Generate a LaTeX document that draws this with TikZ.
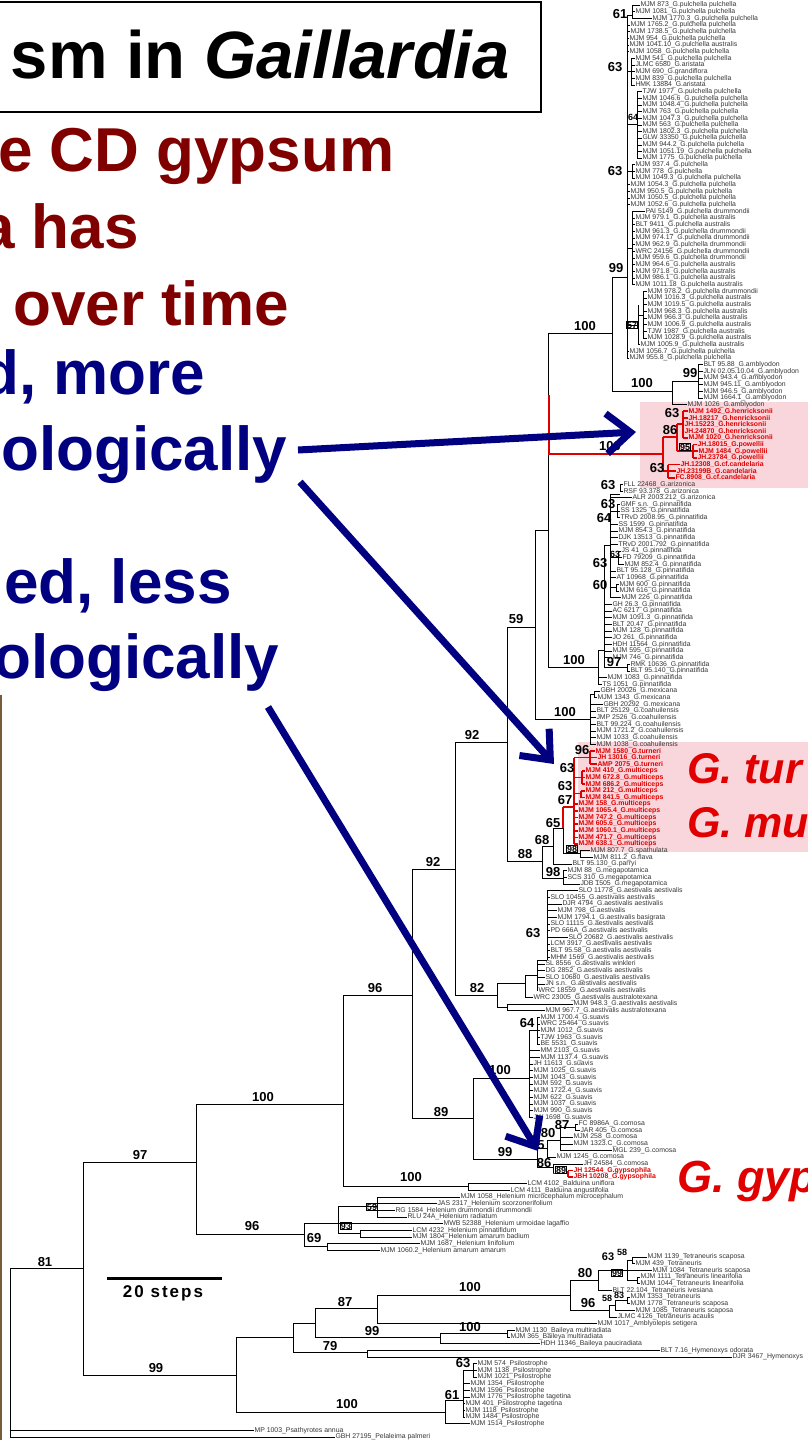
\documentclass[tikz,border=0pt]{standalone}
\usepackage{fontspec}
\setmainfont{Liberation Sans}
\usetikzlibrary{arrows.meta}
\definecolor{maroonT}{RGB}{128,0,0}
\definecolor{navyT}{RGB}{0,0,128}
\definecolor{redT}{RGB}{225,0,0}
\definecolor{pinkT}{RGB}{249,214,220}
\definecolor{leafC}{RGB}{55,55,55}
\definecolor{edgeC}{RGB}{120,90,60}
\newcommand\LY[1]{(5+(#1-1)*6.66)}
\newcommand\VL[4][br]{\draw[#1] (#2,{#3}) -- (#2,{#4});}
\newcommand\HL[4][br]{\draw[#1] (#2,{#4}) -- (#3,{#4});}
\newcommand\LF[5]{\draw[lbr] (#2,{\LY{#1}}) -- (#3,{\LY{#1}});\node[#4] (l#1) at (#3,{\LY{#1}}) {#5};}
\newcommand\RLF[4]{\draw[rbr] (#2,{\LY{#1}}) -- (#3,{\LY{#1}});\node[rlt] (l#1) at (#3,{\LY{#1}}) {#4};}
\newcounter{bsn}
\newcommand\BS[4][bs]{\stepcounter{bsn}\node[#1] (bs\arabic{bsn}) at (#2,#3) {#4};}
\tikzset{
  br/.style={line width=1pt,black},
  lbr/.style={line width=0.7pt,black},
  rbr/.style={line width=1.8pt,redT},
  lt/.style={font=\fontsize{6.9}{7}\selectfont,text=leafC,inner sep=0.3pt,anchor=west},
  rlt/.style={lt,text=redT,font=\fontsize{6.9}{7}\selectfont\bfseries},
  bs/.style={font=\fontsize{13}{13}\selectfont\bfseries,inner sep=0pt},
  bss/.style={font=\fontsize{9}{9}\selectfont\bfseries,inner sep=0.6pt},
  bbox/.style={bss,draw,line width=0.7pt},
  bigt/.style={font=\fontsize{62}{62}\selectfont\bfseries,inner sep=0pt,anchor=base west},
  glab/.style={font=\fontsize{43}{43}\selectfont\bfseries\itshape,text=redT,inner sep=0pt,anchor=base west},
  arr/.style={draw=navyT,line width=7pt,-{Straight Barb[length=24pt,width=40pt]}},
}
\begin{document}
\begin{tikzpicture}[x=1pt,y=-1pt]
\useasboundingbox (0,0) rectangle (808,1440);
\fill[white] (0,0) rectangle (808,1440);
\clip (0,0) rectangle (808,1440);
% pink highlights
\fill[pinkT] (640,402) rectangle (808,488);
\fill[pinkT] (578,742) rectangle (808,852);
% left edge
\draw[edgeC,line width=2pt] (1,695) -- (1,1440);
% title
\draw[line width=2.5pt] (-5,2) rectangle (541,112);
\node[font=\fontsize{67}{67}\selectfont\bfseries,inner sep=0pt,anchor=base east] (title) at (510,78) {sm in \textit{Gaillardia}};
% left text
\node[bigt,text=maroonT] (t1) at (-2,171) {e CD gypsum};
\node[bigt,text=maroonT] (t2) at (-20,248) {a has};
\node[bigt,text=maroonT] (t3) at (13,325) {over time};
\node[bigt,text=navyT] (t4) at (-19,394) {d, more};
\node[bigt,text=navyT] (t5) at (1,470) {ologically};
\node[bigt,text=navyT] (t6) at (4,603) {ed, less};
\node[bigt,text=navyT] (t7) at (-7,678) {ologically};
% big species labels
\node[glab] (gtur) at (687,783) {G. tur};
\node[glab] (gmu) at (687,837) {G. mu};
\node[glab,font=\fontsize{45}{45}\selectfont\bfseries\itshape] (ggyp) at (677,1192) {G. gyp};

% ================= TREE =================
% pulchella
\VL{627}{15}{\LY{54}}
\VL{632}{\LY{1}}{\LY{3}} \HL{627}{632}{15}
\VL{631}{\LY{9}}{\LY{13}} \HL{627}{631}{\LY{11}}
\VL{637}{\LY{14}}{\LY{24}} \HL{627}{637}{\LY{19}}
\VL{632}{\LY{25}}{\LY{27}} \HL{627}{632}{\LY{26}}
\VL{632}{\LY{32}}{\LY{43}} \HL{627}{632}{248}
\VL{638}{305}{\LY{52}} \HL{627}{638}{325}
\VL{643}{\LY{44}}{\LY{51}} \HL{638}{643}{315}
\HL{612}{627}{277}
% amblyodon
\VL{698}{\LY{55}}{\LY{60}} \HL{672}{698}{381}
\VL{672}{381}{\LY{61}} \HL{612}{672}{391}
\VL{612}{277}{391} \HL{548}{612}{333}
\VL{548}{333}{667}
% red henricksonii clade
\VL[rbr]{683}{\LY{62}}{\LY{66}} \HL[rbr]{677}{683}{424}
\VL[rbr]{693}{\LY{67}}{\LY{69}} \HL[rbr]{677}{693}{451}
\VL[rbr]{677}{424}{451} \HL[rbr]{663}{677}{437}
\VL[rbr]{668}{\LY{70}}{\LY{72}} \HL[rbr]{663}{668}{471}
\VL[rbr]{663}{437}{471} \HL[rbr]{548}{663}{454}
\VL[rbr]{549}{395}{454}
% pinnatifida
\VL{620}{\LY{73}}{\LY{74}} \HL{610}{620}{494}
\VL{617}{\LY{76}}{\LY{78}} \HL{610}{617}{\LY{77}}
\VL{618}{\LY{83}}{\LY{85}} \HL{610}{618}{\LY{84}}
\VL{616}{\LY{88}}{\LY{89}} \HL{610}{616}{587}
\VL{610}{494}{\LY{90}} \HL{604}{610}{545}
\VL{627}{\LY{100}}{\LY{101}} \HL{604}{627}{667}
\VL{604}{545}{667} \HL{598}{604}{650}
\VL{598}{650}{\LY{103}} \HL{548}{598}{667}
% mexicana / coahuilensis
\VL{594}{\LY{104}}{\LY{105}} \HL{590}{594}{694}
\VL{590}{694}{\LY{112}} \HL{535}{590}{719}
\VL{535}{530}{719} \HL{535}{548}{530}
\HL{507}{535}{627}
\VL{507}{627}{861}
% turneri / multiceps
\VL[rbr]{590}{\LY{113}}{\LY{115}} \HL[rbr]{574}{590}{\LY{114}}
\VL[rbr]{582}{\LY{116}}{\LY{118}} \HL[rbr]{574}{582}{\LY{117}}
\VL[rbr]{581}{\LY{119}}{\LY{120}} \HL[rbr]{574}{581}{793.5}
\VL[rbr]{574}{\LY{114}}{\LY{127}}
\HL[rbr]{563}{574}{807} \VL[rbr]{563}{807}{828}
\VL{563}{828}{854} \VL{580}{\LY{128}}{\LY{129}} \HL{563}{580}{853.5}
\HL{553}{563}{828} \VL{553}{828}{\LY{130}}
\HL{542}{553}{846} \VL{542}{846}{878} \HL{542}{563}{878}
\VL{563}{\LY{131}}{\LY{133}}
\HL{507}{542}{861}
\HL{455}{507}{742} \VL{455}{742}{995}
\HL{455}{497}{995}
% aestivalis
\VL{547}{\LY{134}}{960} \HL{537}{547}{960}
\VL{537}{960}{\LY{149}} \HL{525}{537}{975}
\VL{525}{975}{\LY{150}} \HL{497}{525}{983}
\VL{507}{\LY{151}}{\LY{152}} \HL{497}{507}{1007}
\VL{497}{983}{1007}
\HL{412}{455}{869} \VL{412}{869}{1118}
\HL{343}{412}{995}
% suavis
\VL{537}{\LY{153}}{\LY{157}} \HL{529}{537}{1030}
\VL{529}{1030}{\LY{168}} \HL{473}{529}{1078}
\VL{473}{1078}{1159} \HL{412}{473}{1118}
% comosa / gypsophila
\VL{575}{\LY{169}}{\LY{170}} \HL{560}{575}{1127}
\VL{560}{1127}{\LY{173}} \HL{547}{560}{1140}
\VL{547}{1140}{\LY{174}} \HL{537}{547}{1148}
\VL{537}{1148}{1167} \HL{537}{553}{1167}
\VL{553}{\LY{175}}{1173.5}
\HL[rbr]{553}{568}{1173.5} \VL[rbr]{568}{\LY{176}}{\LY{177}}
\HL{473}{537}{1159}
% Balduina
\VL{468}{\LY{178}}{\LY{179}} \HL{343}{468}{1186}
\VL{343}{995}{1186}
\HL{196}{343}{1104}
\VL{196}{1104}{1234}
% Helenium
\VL{377}{\LY{180}}{\LY{183}} \HL{338}{377}{1206}
\VL{338}{1206}{1233} \HL{338}{360}{1233} \VL{360}{\LY{185}}{\LY{186}}
\HL{304}{338}{1223} \VL{304}{1223}{1246.7} \HL{304}{327}{1246.7} \VL{327}{\LY{187}}{\LY{188}}
\HL{196}{304}{1234}
\HL{83}{196}{1162}
\VL{83}{1162}{1375}
\HL{10}{83}{1268}
\VL{10}{1268}{\LY{216}}
% lower clades
\HL{83}{236}{1375} \VL{236}{1337}{1412}
\HL{236}{293}{1337} \VL{293}{1323}{1352}
\HL{293}{315}{1323} \VL{315}{1308}{1337}
\HL{315}{377}{1308} \VL{377}{1295}{\LY{199}}
\HL{377}{570}{1295} \VL{570}{1280}{1310}
\HL{570}{598}{1280} \VL{598}{1270}{\LY{194}}
\HL{598}{627}{1270} \VL{627}{1260}{1280}
\HL{627}{632}{1260} \VL{632}{\LY{189}}{\LY{190}}
\HL{627}{637}{1280} \VL{637}{\LY{192}}{\LY{193}}
\HL{570}{609}{1310} \VL{609}{1305}{\LY{198}}
\HL{609}{615}{1305} \VL{615}{1300}{\LY{197}}
\HL{615}{627}{1300} \VL{627}{\LY{195}}{\LY{196}}
\HL{315}{440}{1337} \VL{440}{1333}{\LY{202}}
\HL{440}{507}{1333} \VL{507}{\LY{200}}{\LY{201}}
\HL{293}{367}{1352} \VL{367}{\LY{203}}{\LY{204}}
\HL{236}{445}{1412} \VL{445}{1400}{\LY{214}}
\HL{445}{463}{1400} \VL{463}{1370}{\LY{213}}
\HL{463}{473}{1370} \VL{473}{\LY{205}}{\LY{207}}

% ================= LEAVES =================
\LF{1}{632}{640}{lt}{MJM 873\_G.pulchella pulchella}
\LF{2}{632}{635}{lt}{MJM 1081\_G.pulchella pulchella}
\LF{3}{632}{652}{lt}{MJM 1770.3\_G.pulchella pulchella}
\LF{4}{627}{630}{lt}{MJM 1765.2\_G.pulchella pulchella}
\LF{5}{627}{630}{lt}{MJM 1738.5\_G.pulchella pulchella}
\LF{6}{627}{629}{lt}{MJM 954\_G.pulchella pulchella}
\LF{7}{627}{629}{lt}{MJM 1041.10\_G.pulchella australis}
\LF{8}{627}{629}{lt}{MJM 1058\_G.pulchella pulchella}
\LF{9}{631}{635}{lt}{MJM 541\_G.pulchella pulchella}
\LF{10}{631}{635}{lt}{JLMC 6580\_G.aristata}
\LF{11}{631}{635}{lt}{MJM 690\_G.grandiflora}
\LF{12}{631}{635}{lt}{MJM 839\_G.pulchella pulchella}
\LF{13}{631}{635}{lt}{HMK 13884\_G.aristata}
\LF{14}{637}{642}{lt}{TJW 1977\_G.pulchella pulchella}
\LF{15}{637}{642}{lt}{MJM 1046.6\_G.pulchella pulchella}
\LF{16}{637}{642}{lt}{MJM 1048.4\_G.pulchella pulchella}
\LF{17}{637}{642}{lt}{MJM 763\_G.pulchella pulchella}
\LF{18}{637}{642}{lt}{MJM 1047.3\_G.pulchella pulchella}
\LF{19}{637}{642}{lt}{MJM 563\_G.pulchella pulchella}
\LF{20}{637}{642}{lt}{MJM 1802.3\_G.pulchella pulchella}
\LF{21}{637}{642}{lt}{GLW 33350\_G.pulchella pulchella}
\LF{22}{637}{642}{lt}{MJM 944.2\_G.pulchella pulchella}
\LF{23}{637}{642}{lt}{MJM 1051.19\_G.pulchella pulchella}
\LF{24}{637}{642}{lt}{MJM 1775\_G.pulchella pulchella}
\LF{25}{632}{635}{lt}{MJM 937.4\_G.pulchella}
\LF{26}{632}{635}{lt}{MJM 778\_G.pulchella}
\LF{27}{632}{635}{lt}{MJM 1049.3\_G.pulchella pulchella}
\LF{28}{627}{630}{lt}{MJM 1054.3\_G.pulchella pulchella}
\LF{29}{627}{630}{lt}{MJM 950.5\_G.pulchella pulchella}
\LF{30}{627}{630}{lt}{MJM 1050.5\_G.pulchella pulchella}
\LF{31}{627}{630}{lt}{MJM 1052.6\_G.pulchella pulchella}
\LF{32}{632}{645}{lt}{PAI 5149\_G.pulchella drummondii}
\LF{33}{632}{635}{lt}{MJM 979.1\_G.pulchella australis}
\LF{34}{632}{635}{lt}{BLT 9411\_G.pulchella australis}
\LF{35}{632}{635}{lt}{MJM 961.3\_G.pulchella drummondii}
\LF{36}{632}{635}{lt}{MJM 974.17\_G.pulchella drummondii}
\LF{37}{632}{635}{lt}{MJM 962.9\_G.pulchella drummondii}
\LF{38}{632}{635}{lt}{WRC 24156\_G.pulchella drummondii}
\LF{39}{632}{635}{lt}{MJM 959.6\_G.pulchella drummondii}
\LF{40}{632}{635}{lt}{MJM 964.6\_G.pulchella australis}
\LF{41}{632}{635}{lt}{MJM 971.8\_G.pulchella australis}
\LF{42}{632}{635}{lt}{MJM 986.1\_G.pulchella australis}
\LF{43}{632}{635}{lt}{MJM 1011.18\_G.pulchella australis}
\LF{44}{643}{647}{lt}{MJM 978.2\_G.pulchella drummondii}
\LF{45}{643}{647}{lt}{MJM 1016.3\_G.pulchella australis}
\LF{46}{643}{647}{lt}{MJM 1019.5\_G.pulchella australis}
\LF{47}{643}{647}{lt}{MJM 968.3\_G.pulchella australis}
\LF{48}{643}{647}{lt}{MJM 966.3\_G.pulchella australis}
\LF{49}{643}{647}{lt}{MJM 1006.9\_G.pulchella australis}
\LF{50}{643}{647}{lt}{TJW 1987\_G.pulchella australis}
\LF{51}{643}{647}{lt}{MJM 1028.9\_G.pulchella australis}
\LF{52}{638}{640}{lt}{MJM 1005.9\_G.pulchella australis}
\LF{53}{627}{629}{lt}{MJM 1056.7\_G.pulchella pulchella}
\LF{54}{627}{629}{lt}{MJM 955.8\_G.pulchella pulchella}
\LF{55}{698}{703}{lt}{BLT 95.88\_G.amblyodon}
\LF{56}{698}{703}{lt}{JLN 02.05.10.04\_G.amblyodon}
\LF{57}{698}{703}{lt}{MJM 943.4\_G.amblyodon}
\LF{58}{698}{703}{lt}{MJM 945.11\_G.amblyodon}
\LF{59}{698}{703}{lt}{MJM 946.5\_G.amblyodon}
\LF{60}{698}{703}{lt}{MJM 1664.1\_G.amblyodon}
\LF{61}{672}{687}{lt}{MJM 1026\_G.amblyodon}
\RLF{62}{683}{688}{MJM 1492\_G.henricksonii}
\RLF{63}{683}{688}{JH.18217\_G.henricksonii}
\RLF{64}{683}{684}{JH.15223\_G.henricksonii}
\RLF{65}{683}{684}{JH.24870\_G.henricksonii}
\RLF{66}{683}{688}{MJM 1020\_G.henricksonii}
\RLF{67}{693}{697}{JH.18015\_G.powellii}
\RLF{68}{693}{698}{MJM 1484\_G.powellii}
\RLF{69}{693}{697}{JH.23784\_G.powellii}
\RLF{70}{668}{680}{JH.12308\_G.cf.candelaria}
\RLF{71}{668}{676}{JH.23199B\_G.candelaria}
\RLF{72}{668}{675}{FC.8908\_G.cf.candelaria}
\LF{73}{620}{623}{lt}{FLL 22468\_G.arizonica}
\LF{74}{620}{623}{lt}{RSF 93.378\_G.arizonica}
\LF{75}{610}{632}{lt}{ALR 2003.212\_G.arizonica}
\LF{76}{617}{620}{lt}{GMF s.n.\_G.pinnatifida}
\LF{77}{617}{620}{lt}{SS 1325\_G.pinnatifida}
\LF{78}{617}{620}{lt}{TRvD 2008.95\_G.pinnatifida}
\LF{79}{610}{618}{lt}{SS 1599\_G.pinnatifida}
\LF{80}{610}{618}{lt}{MJM 854.3\_G.pinnatifida}
\LF{81}{610}{618}{lt}{DJK 13513\_G.pinnatifida}
\LF{82}{610}{618}{lt}{TRvD 2001.792\_G.pinnatifida}
\LF{83}{618}{621}{lt}{JS 41\_G.pinnatifida}
\LF{84}{618}{622}{lt}{FD 79209\_G.pinnatifida}
\LF{85}{618}{624}{lt}{MJM 852.4\_G.pinnatifida}
\LF{86}{610}{616}{lt}{BLT 95.128\_G.pinnatifida}
\LF{87}{610}{616}{lt}{AT 10968\_G.pinnatifida}
\LF{88}{616}{619}{lt}{MJM 600\_G.pinnatifida}
\LF{89}{616}{619}{lt}{MJM 616\_G.pinnatifida}
\LF{90}{610}{621}{lt}{MJM 226\_G.pinnatifida}
\LF{91}{604}{612}{lt}{GH 26.3\_G.pinnatifida}
\LF{92}{604}{612}{lt}{AC 6217\_G.pinnatifida}
\LF{93}{604}{612}{lt}{MJM 1091.3\_G.pinnatifida}
\LF{94}{604}{612}{lt}{BLT 20.47\_G.pinnatifida}
\LF{95}{604}{612}{lt}{MJM 128\_G.pinnatifida}
\LF{96}{604}{612}{lt}{JO 261\_G.pinnatifida}
\LF{97}{604}{612}{lt}{HDH 11564\_G.pinnatifida}
\LF{98}{604}{612}{lt}{MJM 595\_G.pinnatifida}
\LF{99}{604}{612}{lt}{MJM 746\_G.pinnatifida}
\LF{100}{627}{630}{lt}{RMK 10636\_G.pinnatifida}
\LF{101}{627}{630}{lt}{BLT 95.140\_G.pinnatifida}
\LF{102}{598}{607}{lt}{MJM 1083\_G.pinnatifida}
\LF{103}{598}{602}{lt}{TS 1051\_G.pinnatifida}
\LF{104}{594}{600}{lt}{GBH 20026\_G.mexicana}
\LF{105}{594}{597}{lt}{MJM 1343\_G.mexicana}
\LF{106}{590}{603}{lt}{GBH 20292\_G.mexicana}
\LF{107}{590}{596}{lt}{BLT 25129\_G.coahuilensis}
\LF{108}{590}{596}{lt}{JMP 2526\_G.coahuilensis}
\LF{109}{590}{596}{lt}{BLT 99.224\_G.coahuilensis}
\LF{110}{590}{596}{lt}{MJM 1721.2\_G.coahuilensis}
\LF{111}{590}{596}{lt}{MJM 1033\_G.coahuilensis}
\LF{112}{590}{596}{lt}{MJM 1038\_G.coahuilensis}
\RLF{113}{590}{595}{MJM 1580\_G.turneri}
\RLF{114}{590}{597}{JH 13016\_G.turneri}
\RLF{115}{590}{597}{AMP 2075\_G.turneri}
\RLF{116}{582}{585}{MJM 410\_G.multiceps}
\RLF{117}{582}{585}{MJM 672.8\_G.multiceps}
\RLF{118}{582}{585}{MJM 686.2\_G.multiceps}
\RLF{119}{581}{585}{MJM 212\_G.multiceps}
\RLF{120}{581}{585}{MJM 841.5\_G.multiceps}
\RLF{121}{574}{578}{MJM 158\_G.multiceps}
\RLF{122}{574}{578}{MJM 1065.4\_G.multiceps}
\RLF{123}{574}{578}{MJM 747.2\_G.multiceps}
\RLF{124}{574}{578}{MJM 605.6\_G.multiceps}
\RLF{125}{574}{578}{MJM 1060.1\_G.multiceps}
\RLF{126}{574}{578}{MJM 471.7\_G.multiceps}
\RLF{127}{574}{578}{MJM 638.1\_G.multiceps}
\LF{128}{580}{590}{lt}{MJM 807.7\_G.spathulata}
\LF{129}{580}{593}{lt}{MJM 811.2\_G.flava}
\LF{130}{553}{572}{lt}{BLT 95.130\_G.parryi}
\LF{131}{563}{567}{lt}{MJM 88\_G.megapotamica}
\LF{132}{563}{567}{lt}{SCS 310\_G.megapotamica}
\LF{133}{563}{580}{lt}{JDB 1505\_G.megapotamica}
\LF{134}{547}{578}{lt}{SLO 11778\_G.aestivalis aestivalis}
\LF{135}{547}{550}{lt}{SLO 10455\_G.aestivalis aestivalis}
\LF{136}{547}{562}{lt}{DJR 4794\_G.aestivalis aestivalis}
\LF{137}{547}{557}{lt}{MJM 798\_G.aestivalis}
\LF{138}{547}{557}{lt}{MJM 1794.1\_G.aestivalis basigrata}
\LF{139}{547}{550}{lt}{SLO 11115\_G.aestivalis aestivalis}
\LF{140}{547}{550}{lt}{PD 666A\_G.aestivalis aestivalis}
\LF{141}{547}{568}{lt}{SLO 20682\_G.aestivalis aestivalis}
\LF{142}{547}{550}{lt}{LCM 3917\_G.aestivalis aestivalis}
\LF{143}{547}{550}{lt}{BLT 95.58\_G.aestivalis aestivalis}
\LF{144}{547}{550}{lt}{MHM 1569\_G.aestivalis aestivalis}
\LF{145}{537}{545}{lt}{SL 8556\_G.aestivalis winkleri}
\LF{146}{537}{545}{lt}{DG 2852\_G.aestivalis aestivalis}
\LF{147}{537}{545}{lt}{SLO 10680\_G.aestivalis aestivalis}
\LF{148}{537}{545}{lt}{JN s.n.\_G.aestivalis aestivalis}
\LF{149}{537}{538}{lt}{WRC 18559\_G.aestivalis aestivalis}
\LF{150}{525}{533}{lt}{WRC 23005\_G.aestivalis australotexana}
\LF{151}{507}{573}{lt}{MJM 948.3\_G.aestivalis aestivalis}
\LF{152}{507}{545}{lt}{MJM 967.7\_G.aestivalis australotexana}
\LF{153}{537}{540}{lt}{MJM 1700.4\_G.suavis}
\LF{154}{537}{540}{lt}{WRC 25464\_G.suavis}
\LF{155}{537}{540}{lt}{MJM 1012\_G.suavis}
\LF{156}{537}{540}{lt}{TJW 1963\_G.suavis}
\LF{157}{537}{540}{lt}{BE 5531\_G.suavis}
\LF{158}{529}{540}{lt}{MM 2103\_G.suavis}
\LF{159}{529}{540}{lt}{MJM 1137.4\_G.suavis}
\LF{160}{529}{533}{lt}{JH 11613\_G.suavis}
\LF{161}{529}{533}{lt}{MJM 1025\_G.suavis}
\LF{162}{529}{533}{lt}{MJM 1043\_G.suavis}
\LF{163}{529}{533}{lt}{MJM 592\_G.suavis}
\LF{164}{529}{533}{lt}{MJM 1722.4\_G.suavis}
\LF{165}{529}{533}{lt}{MJM 622\_G.suavis}
\LF{166}{529}{533}{lt}{MJM 1037\_G.suavis}
\LF{167}{529}{533}{lt}{MJM 990\_G.suavis}
\LF{168}{529}{533}{lt}{JW 1698\_G.suavis}
\LF{169}{575}{578}{lt}{FC 8986A\_G.comosa}
\LF{170}{575}{580}{lt}{JAR 405\_G.comosa}
\LF{171}{560}{573}{lt}{MJM 258\_G.comosa}
\LF{172}{560}{573}{lt}{MJM 1323.C\_G.comosa}
\LF{173}{560}{612}{lt}{MGL 239\_G.comosa}
\LF{174}{547}{556}{lt}{MJM 1245\_G.comosa}
\LF{175}{553}{583}{lt}{JH 24584\_G.comosa}
\RLF{176}{568}{573}{JH 12544\_G.gypsophila}
\RLF{177}{568}{573}{JBH 10208\_G.gypsophila}
\LF{178}{468}{527}{lt}{LCM 4102\_Balduina uniflora}
\LF{179}{468}{510}{lt}{LCM 4111\_Balduina angustifolia}
\LF{180}{377}{460}{lt}{MJM 1058\_Helenium microcephalum microcephalum}
\LF{181}{377}{437}{lt}{JAS 2317\_Helenium scorzonerifolium}
\LF{182}{377}{395}{lt}{RG 1584\_Helenium drummondii drummondii}
\LF{183}{377}{407}{lt}{RLU 24A\_Helenium radiatum}
\LF{184}{338}{443}{lt}{MWB 52388\_Helenium urmoidae lagaffio}
\LF{185}{360}{412}{lt}{LCM 4232\_Helenium pinnatifidum}
\LF{186}{360}{412}{lt}{MJM 1804\_Helenium amarum badium}
\LF{187}{327}{420}{lt}{MJM 1687\_Helenium linifolium}
\LF{188}{327}{380}{lt}{MJM 1060.2\_Helenium amarum amarum}
\LF{189}{632}{647}{lt}{MJM 1139\_Tetraneuris scaposa}
\LF{190}{632}{635}{lt}{MJM 439\_Tetraneuris}
\LF{191}{627}{652}{lt}{MJM 1084\_Tetraneuris scaposa}
\LF{192}{637}{640}{lt}{MJM 1111\_Tetraneuris linearifolia}
\LF{193}{637}{640}{lt}{MJM 1044\_Tetraneuris linearifolia}
\LF{194}{598}{612}{lt}{BLT 22.104\_Tetraneuris ivesiana}
\LF{195}{627}{630}{lt}{MJM 1353\_Tetraneuris}
\LF{196}{627}{630}{lt}{MJM 1778\_Tetraneuris scaposa}
\LF{197}{615}{635}{lt}{MJM 1085\_Tetraneuris scaposa}
\LF{198}{609}{617}{lt}{JLMC 4126\_Tetraneuris acaulis}
\LF{199}{377}{597}{lt}{MJM 1017\_Amblyolepis setigera}
\LF{200}{507}{515}{lt}{MJM 1130\_Baileya multiradiata}
\LF{201}{507}{510}{lt}{MJM 365\_Baileya multiradiata}
\LF{202}{440}{540}{lt}{HDH 11346\_Baileya pauciradiata}
\LF{203}{367}{660}{lt}{BLT 7.16\_Hymenoxys odorata}
\LF{204}{367}{732}{lt}{DJR 3467\_Hymenoxys}
\LF{205}{473}{477}{lt}{MJM 574\_Psilostrophe}
\LF{206}{473}{477}{lt}{MJM 1138\_Psilostrophe}
\LF{207}{473}{477}{lt}{MJM 1021\_Psilostrophe}
\LF{208}{463}{470}{lt}{MJM 1354\_Psilostrophe}
\LF{209}{463}{470}{lt}{MJM 1596\_Psilostrophe}
\LF{210}{463}{470}{lt}{MJM 1776\_Psilostrophe tagetina}
\LF{211}{463}{465}{lt}{MJM 401\_Psilostrophe tagetina}
\LF{212}{463}{465}{lt}{MJM 1118\_Psilostrophe}
\LF{213}{463}{465}{lt}{MJM 1484\_Psilostrophe}
\LF{214}{445}{470}{lt}{MJM 1514\_Psilostrophe}
\LF{215}{10}{254}{lt}{MP 1003\_Psathyrotes annua}
\LF{216}{10}{335}{lt}{GBH 27195\_Pelaleima palmeri}

% ================= SUPPORT VALUES =================
\BS{620}{14}{61} \BS{615}{67}{63} \BS[bss]{633}{117}{64} \BS{615}{171}{63}
\BS{616}{268}{99} \BS[bbox]{632}{325}{57} \BS{585}{326}{100}
\BS{642}{383}{100} \BS{690}{373}{99}
\BS{672}{413}{63} \BS{670}{430}{86} \BS[bbox]{685}{447}{95} \BS{657}{468}{63}
\BS{610}{446}{100}
\BS{608}{485}{63} \BS{608}{504}{63} \BS{604}{518}{64} \BS[bss]{615}{554}{63}
\BS{600}{563}{63} \BS{600}{585}{60} \BS{614}{662}{97} \BS{574}{660}{100}
\BS{516}{619}{59} \BS{565}{712}{100} \BS{472}{735}{92}
\BS{582}{750}{96} \BS{567}{768}{63} \BS{565}{786}{63} \BS{565}{800}{67}
\BS{553}{823}{65} \BS{542}{840}{68} \BS{525}{854}{88} \BS[bbox]{572}{849}{98}
\BS{553}{872}{98}
\BS{433}{862}{92} \BS{533}{933}{63} \BS{477}{988}{82} \BS{375}{988}{96}
\BS{527}{1023}{64} \BS{500}{1070}{100} \BS{441}{1112}{89} \BS{505}{1152}{99}
\BS{562}{1125}{87} \BS{548}{1133}{80} \BS{541}{1145}{5} \BS{544}{1163}{86}
\BS[bbox]{561}{1170}{89}
\BS{411}{1177}{100} \BS{263}{1097}{100} \BS{140}{1155}{97}
\BS{252}{1226}{96} \BS[bbox]{346}{1226}{93} \BS{314}{1238}{69} \BS[bbox]{372}{1207}{59}
\BS{45}{1262}{81}
\BS{345}{1302}{87} \BS{372}{1331}{99} \BS{330}{1346}{79} \BS{470}{1287}{100}
\BS{585}{1273}{80} \BS{588}{1303}{96} \BS[font=\fontsize{11}{11}\selectfont\bfseries,inner sep=0pt]{608}{1257}{63}
\BS[bss]{622}{1252}{58} \BS[bbox]{617}{1273}{99} \BS[bss]{607}{1298}{58} \BS[bss]{619}{1295}{83}
\BS{470}{1327}{100} \BS{156}{1368}{99} \BS{463}{1363}{63} \BS{452}{1395}{61}
\BS{347}{1404}{100}

% scale bar
\draw[line width=3pt] (107,1278) -- (222,1278);
\node[font=\fontsize{17}{17}\selectfont\bfseries\addfontfeatures{LetterSpace=12},inner sep=0pt] (scl) at (163,1293) {20 steps};

% ================= ARROWS =================
\coordinate (a1s) at (298,450);
\coordinate (a1e) at (636,432);
\coordinate (a2s) at (300,482);
\coordinate (a2e) at (554,764);
\coordinate (a3s) at (268,707);
\coordinate (a3e) at (538,1151);
\draw[arr] (a1s) -- (a1e);
\draw[arr] (a2s) -- (a2e);
\draw[arr] (a3s) -- (a3e);
\end{tikzpicture}
\end{document}
